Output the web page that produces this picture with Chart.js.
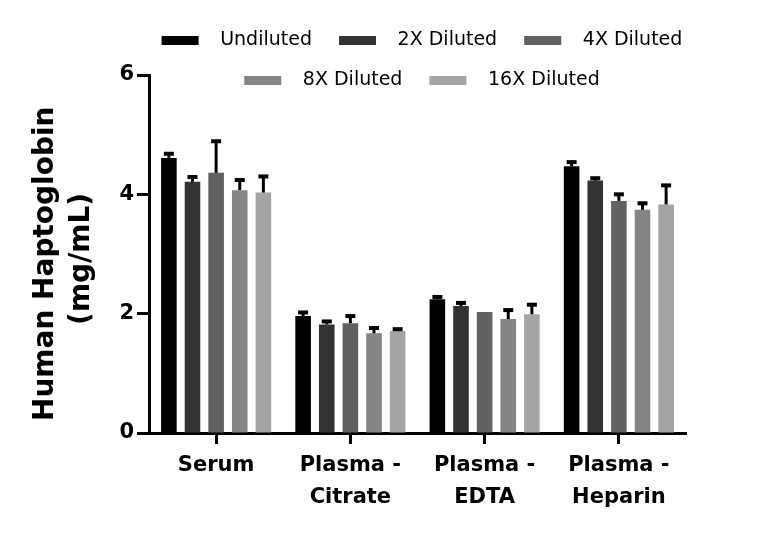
<!DOCTYPE html>
<html>
<head>
<meta charset="utf-8">
<script src="https://cdn.jsdelivr.net/npm/chart.js@4.4.1/dist/chart.umd.min.js"></script>
<style>
  html, body { margin: 0; padding: 0; background: #fff; }
  #wrap { width: 768px; height: 537px; }
</style>
</head>
<body>
<div id="wrap"><canvas id="haptoglobin-chart"></canvas></div>
<script>
// sample types on the x axis
const categories = [["Serum"], ["Plasma -", "Citrate"], ["Plasma -", "EDTA"], ["Plasma -", "Heparin"]];
const seriesNames = ["Undiluted", "2X Diluted", "4X Diluted", "8X Diluted", "16X Diluted"];
const seriesColors = ["#000000", "#333333", "#616161", "#858585", "#a4a4a4"];

// mean concentration (mg/mL) per dilution
const undiluted = [4.61, 1.96, 2.24, 4.47];
const diluted2x = [4.21, 1.82, 2.13, 4.23];
const diluted4x = [4.36, 1.84, 2.03, 3.89];
const diluted8x = [4.07, 1.67, 1.91, 3.74];
const diluted16x = [4.03, 1.71, 1.99, 3.83];

// upper error (SD) per dilution
const errUndiluted = [0.07, 0.06, 0.04, 0.07];
const err2x = [0.08, 0.05, 0.05, 0.04];
const err4x = [0.53, 0.12, 0.0, 0.11];
const err8x = [0.17, 0.09, 0.15, 0.11];
const err16x = [0.27, 0.03, 0.16, 0.32];

const yTicks = [0, 2, 4, 6];

const values = [undiluted, diluted2x, diluted4x, diluted8x, diluted16x];
const errors = [errUndiluted, err2x, err4x, err8x, err16x];

// draws the upward-only error bars with a cap, like Prism does
const errorBars = {
  id: 'errorBars',
  afterDatasetsDraw(chart) {
    const ctx = chart.ctx;
    const y = chart.scales.y;
    ctx.save();
    ctx.strokeStyle = '#000';
    chart.data.datasets.forEach((ds, i) => {
      const meta = chart.getDatasetMeta(i);
      meta.data.forEach((bar, j) => {
        const err = ds.errors[j];
        if (!err) return;
        const top = y.getPixelForValue(ds.data[j] + err);
        ctx.lineWidth = 3;
        ctx.beginPath();
        ctx.moveTo(bar.x, bar.y);
        ctx.lineTo(bar.x, top);
        ctx.stroke();
        ctx.lineWidth = 4;
        ctx.beginPath();
        ctx.moveTo(bar.x - 5, top);
        ctx.lineTo(bar.x + 5, top);
        ctx.stroke();
      });
    });
    ctx.restore();
  }
};

// legend sits partly beside the top of the y axis, so let it overflow its box
// and centre it over the plot instead of the whole canvas
const legendOverflow = {
  id: 'legendOverflow',
  beforeDraw(chart) {
    const lg = chart.legend;
    if (!lg) return;
    lg.left = chart.chartArea.left - 24;
    lg.right = chart.chartArea.right + 39;
    lg.bottom = lg.top + 100;
    lg.height = 100;
  }
};

new Chart(document.getElementById("haptoglobin-chart"), {
  type: 'bar',
  data: {
    labels: categories,
    datasets: seriesNames.map((name, i) => ({
      label: name,
      data: values[i],
      errors: errors[i],
      backgroundColor: seriesColors[i],
      borderWidth: 0,
      categoryPercentage: 0.88,
      barPercentage: 0.66
    }))
  },
  options: {
    responsive: true,
    maintainAspectRatio: false,
    animation: false,
    layout: { padding: { top: 10, right: 82, bottom: 0, left: 0 } },
    plugins: {
      tooltip: { enabled: false },
      legend: {
        position: 'top',
        maxHeight: 65,
        labels: {
          boxWidth: 37,
          boxHeight: 9,
          padding: 21,
          color: '#000',
          font: { family: 'DejaVu Sans', size: 19 },
          generateLabels(chart) {
            return chart.data.datasets.map((ds, i) => ({
              text: '  ' + ds.label + ' ',
              fillStyle: ds.backgroundColor,
              strokeStyle: ds.backgroundColor,
              lineWidth: 0,
              datasetIndex: i
            }));
          }
        }
      }
    },
    scales: {
      x: {
        afterFit(scale) { scale.height = 104; },
        grid: {
          offset: false,
          drawOnChartArea: false,
          drawTicks: true,
          tickLength: 11,
          tickWidth: 3,
          tickColor: '#000'
        },
        border: { display: true, width: 3, color: '#000' },
        ticks: {
          color: '#000',
          maxRotation: 0,
          autoSkip: false,
          padding: 6,
          font: { family: 'DejaVu Sans', size: 21, weight: 'bold', lineHeight: 1.5 }
        }
      },
      y: {
        min: 0,
        max: 6,
        afterFit(scale) { scale.width = 149; },
        afterBuildTicks(scale) { scale.ticks = yTicks.map(v => ({ value: v })); },
        grid: {
          drawOnChartArea: false,
          drawTicks: true,
          tickLength: 12,
          tickWidth: 3,
          tickColor: '#000'
        },
        border: { display: true, width: 3, color: '#000' },
        ticks: {
          color: '#000',
          padding: 3,
          font: { family: 'DejaVu Sans', size: 21, weight: 'bold' }
        },
        title: {
          display: true,
          text: ["Human Haptoglobin  ", "(mg/mL) "],
          color: '#000',
          padding: { top: 28, bottom: 0 },
          font: { family: 'DejaVu Sans', size: 28, weight: 'bold', lineHeight: 1.29 }
        }
      }
    }
  },
  plugins: [errorBars, legendOverflow]
});
</script>
</body>
</html>
